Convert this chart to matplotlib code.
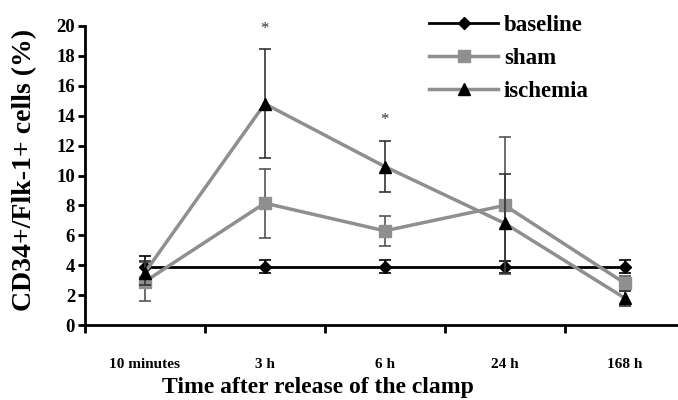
import numpy as np
import matplotlib.pyplot as plt
from matplotlib.lines import Line2D

plt.rcParams['font.family'] = ['Liberation Serif', 'DejaVu Serif']
plt.rcParams['font.weight'] = 'bold'

times = ["10 minutes", "3 h", "6 h", "24 h", "168 h"]
baseline = [3.9, 3.9, 3.9, 3.9, 3.9]
baseline_err = [0.7, 0.45, 0.45, 0.4, 0.45]
sham = [2.9, 8.15, 6.3, 8.0, 2.8]
sham_err = [1.3, 2.3, 1.0, 4.6, 0.5]
ischemia = [3.5, 14.8, 10.6, 6.8, 1.8]
ischemia_err = [0.8, 3.65, 1.7, 3.3, 0.5]
stars = {1: 19.8, 2: 13.7}

gray = "#8f8f8f"
x = np.arange(len(times))

fig = plt.figure(figsize=(6.78, 4), dpi=100)
ax = fig.add_axes([0.125, 0.1875, 0.885, 0.7475])

ax.errorbar(x, baseline, yerr=baseline_err, color="black", marker="D", ms=6,
            lw=2, ecolor="black", elinewidth=1.2, capsize=4, capthick=1.2,
            zorder=3)
ax.errorbar(x, sham, yerr=sham_err, color=gray, marker="s", ms=8,
            lw=2.5, ecolor="#555555", elinewidth=1.2, capsize=4, capthick=1.2,
            zorder=4)
ax.errorbar(x, ischemia, yerr=ischemia_err, color=gray, marker="^", ms=9,
            mfc="black", mec="black", lw=2.5, ecolor="#333333",
            elinewidth=1.2, capsize=4, capthick=1.2, zorder=5)

for i, yv in stars.items():
    ax.text(x[i], yv, "*", ha="center", va="center", fontsize=12,
            fontweight="normal", color="#333333")

ax.set_xlim(-0.5, 4.5)
ax.set_ylim(0, 20)
ax.set_yticks(np.arange(0, 21, 2))
ax.set_xticks(x)
ax.set_xticklabels(times, fontsize=11)
ax.set_xticks(np.arange(-0.5, 4.6, 1), minor=True)
ax.tick_params(axis="x", which="major", length=0, pad=24)
ax.tick_params(axis="x", which="minor", length=6, width=2, direction="out")
ax.tick_params(axis="y", length=5, width=2, direction="out", labelsize=13.5, pad=2)

for s in ["top", "right"]:
    ax.spines[s].set_visible(False)
for s in ["left", "bottom"]:
    ax.spines[s].set_linewidth(2)

ax.set_ylabel("CD34+/Flk-1+ cells (%)", fontsize=20, fontweight="bold")
ax.yaxis.set_label_coords(-0.08, 0.52)
ax.set_xlabel("Time after release of the clamp", fontsize=17, fontweight="bold")
ax.xaxis.set_label_coords(0.388, -0.175)

handles = [
    Line2D([], [], color="black", marker="D", ms=6, lw=2),
    Line2D([], [], color=gray, marker="s", ms=8, lw=2.5),
    Line2D([], [], color=gray, marker="^", ms=9, mfc="black", mec="black", lw=2.5),
]
ax.legend(handles, ["baseline", "sham", "ischemia"], loc="upper left",
          bbox_to_anchor=(0.54, 1.105), frameon=False, fontsize=16.5,
          handlelength=3.0, handletextpad=0.25, labelspacing=0.52)

fig.savefig("out.png", dpi=100)
